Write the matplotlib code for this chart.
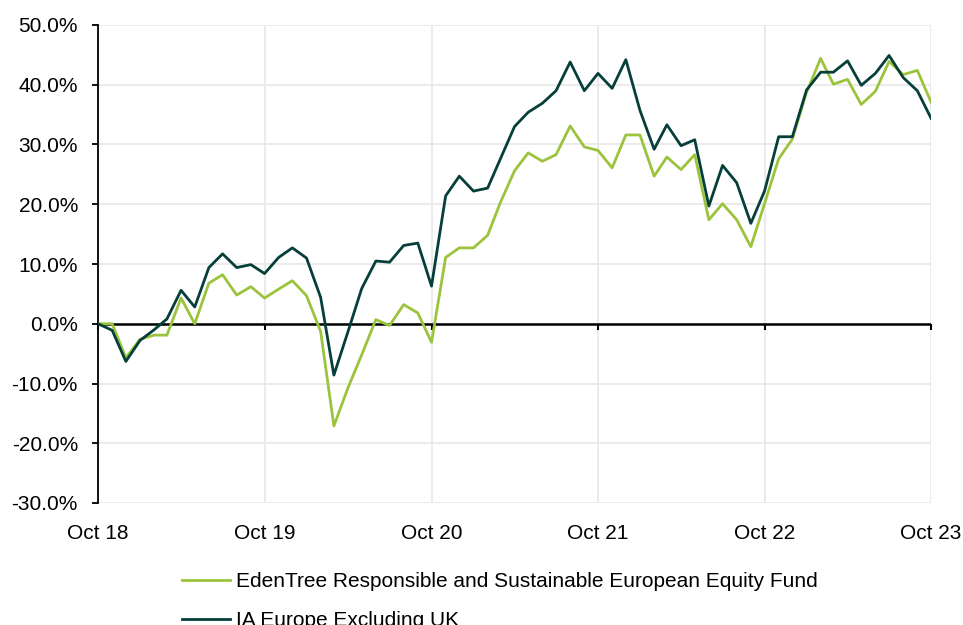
import matplotlib.pyplot as plt
import matplotlib.dates as mdates
import matplotlib.ticker as mticker
from matplotlib.lines import TICKDOWN
import pandas as pd

plt.rcParams['font.family'] = ['Liberation Sans', 'DejaVu Sans']

# monthly cumulative performance, Oct 2018 - Oct 2023
months = pd.date_range('2018-10-01', '2023-10-01', freq='MS')

edentree = [0.0, 0.0, -5.7, -2.6, -1.9, -1.9, 4.3, 0.0, 6.8, 8.2, 4.8, 6.2,
            4.3, 5.8, 7.2, 4.7, -1.3, -17.1, -10.7, -5.2, 0.7, -0.3, 3.2, 1.8,
            -3.1, 11.1, 12.7, 12.7, 14.8, 20.3, 25.6, 28.6, 27.2, 28.3, 33.1, 29.6,
            29.0, 26.1, 31.6, 31.6, 24.7, 27.9, 25.8, 28.3, 17.4, 20.1, 17.4, 12.9,
            20.1, 27.6, 30.9, 38.7, 44.4, 40.1, 40.9, 36.7, 38.9, 43.9, 41.7, 42.4,
            37.1]

ia_europe = [0.0, -1.1, -6.3, -2.8, -1.0, 0.8, 5.6, 2.8, 9.4, 11.7, 9.4, 9.9,
             8.4, 11.1, 12.7, 11.0, 4.4, -8.6, -1.3, 5.9, 10.5, 10.3, 13.1, 13.5,
             6.3, 21.4, 24.7, 22.2, 22.7, 27.6, 33.0, 35.4, 36.9, 39.0, 43.8, 39.0,
             41.9, 39.4, 44.2, 35.7, 29.2, 33.3, 29.8, 30.8, 19.7, 26.5, 23.6, 16.8,
             22.2, 31.3, 31.3, 39.1, 42.1, 42.1, 44.0, 39.9, 41.9, 44.9, 41.2, 39.0,
             34.4]

year_ticks = pd.date_range('2018-10-01', '2023-10-01', freq='12MS')
y_ticks = [-30, -20, -10, 0, 10, 20, 30, 40, 50]

green = '#9bc33c'
dark = '#063f3a'

fig = plt.figure(figsize=(9.63, 6.25), dpi=100)
ax = fig.add_axes([0.1018, 0.1952, 0.8650, 0.7648])

ax.plot(months, edentree, color=green, lw=2, zorder=3,
        label='EdenTree Responsible and Sustainable European Equity Fund')
ax.plot(months, ia_europe, color=dark, lw=2, zorder=3, label='IA Europe Excluding UK')

ax.set_xlim(months[0], months[-1])
ax.set_ylim(-30, 50)
ax.set_yticks(y_ticks)
ax.yaxis.set_major_formatter(mticker.FuncFormatter(lambda v, p: f'{v:.1f}%'))
ax.set_xticks(year_ticks)
ax.xaxis.set_major_formatter(mdates.DateFormatter('%b %y'))

ax.grid(True, color='#e9e9e9', lw=1.3)
ax.set_axisbelow(True)
for s in ['top', 'right', 'bottom']:
    ax.spines[s].set_visible(False)
ax.spines['left'].set_color('black')
ax.spines['left'].set_linewidth(1.3)

ax.tick_params(axis='y', length=4.5, width=1.3, pad=10, labelsize=15)
ax.tick_params(axis='x', length=0, pad=15, labelsize=15)

# zero line acting as the x axis, with small ticks pointing down
ax.axhline(0, color='black', lw=1.8, zorder=2)
ax.plot(year_ticks, [0] * len(year_ticks), ls='none', marker=TICKDOWN,
        ms=4, mew=1.5, color='black', zorder=2, clip_on=False)

fig.legend(loc='upper left', bbox_to_anchor=(0.178, 0.101), frameon=False,
           fontsize=15, borderpad=0, handlelength=2.3, handletextpad=0.3,
           labelspacing=0.95)

fig.savefig('out.png', dpi=100)
